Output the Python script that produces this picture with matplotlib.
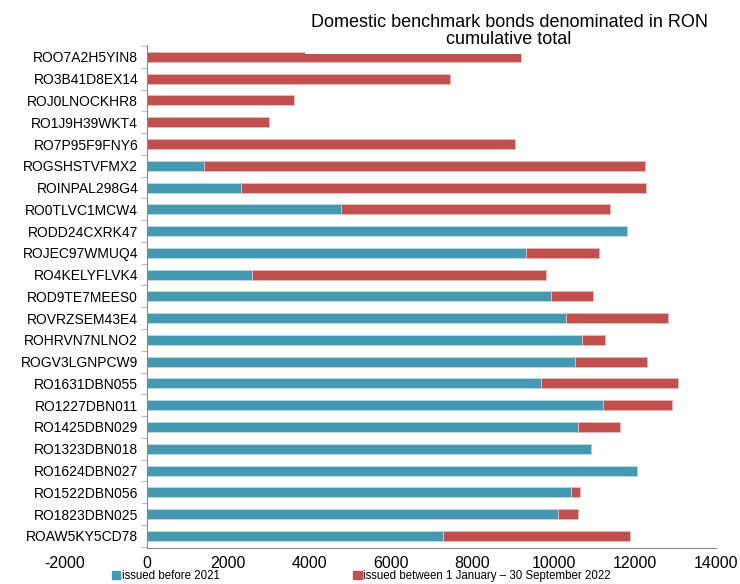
import matplotlib.pyplot as plt
from matplotlib.patches import Patch
from matplotlib.ticker import FixedLocator

plt.rcParams['font.family'] = ['Liberation Sans', 'DejaVu Sans']
plt.rcParams['axes.unicode_minus'] = False

# ── Данные (сверху вниз, как на картинке) ─────────────────────────────────────
bonds = [
    'ROO7A2H5YIN8', 'RO3B41D8EX14', 'ROJ0LNOCKHR8', 'RO1J9H39WKT4',
    'RO7P95F9FNY6', 'ROGSHSTVFMX2', 'ROINPAL298G4', 'RO0TLVC1MCW4',
    'RODD24CXRK47', 'ROJEC97WMUQ4', 'RO4KELYFLVK4', 'ROD9TE7MEES0',
    'ROVRZSEM43E4', 'ROHRVN7NLNO2', 'ROGV3LGNPCW9', 'RO1631DBN055',
    'RO1227DBN011', 'RO1425DBN029', 'RO1323DBN018', 'RO1624DBN027',
    'RO1522DBN056', 'RO1823DBN025', 'ROAW5KY5CD78',
]
before_2021 = [
    0, 0, 0, 0,
    0, 1410, 2310, 4790,
    11800, 9330, 2600, 9940,
    10310, 10690, 10540, 9690,
    11210, 10600, 10910, 12050,
    10430, 10100, 7290,
]
issued_2022 = [
    9190, 7460, 3620, 3000,
    9060, 10830, 9950, 6610,
    0, 1780, 7220, 1040,
    2500, 570, 1750, 3360,
    1710, 1040, 0, 0,
    210, 490, 4590,
]

TEAL = '#4499B0'
RED = '#C0504D'

fig = plt.figure(figsize=(7.40, 5.84), dpi=100)
ax = fig.add_axes([0.088, 0.062, 0.880, 0.861])

n = len(bonds)
ypos = [n - 1 - i for i in range(n)]
h = 0.46

ax.barh(ypos, before_2021, height=h, color=TEAL, edgecolor='#b9d8e0', lw=0.7)
ax.barh(ypos, issued_2022, left=before_2021, height=h, color=RED,
        edgecolor='#e8b8b6', lw=0.7)

ax.set_xlim(-2000, 14000)
ax.set_ylim(-0.55, n - 0.45)
ax.set_xticks(range(-2000, 14001, 2000))
ax.tick_params(axis='x', length=0, labelsize=11.5, pad=6)

ax.set_yticks(ypos)
ax.set_yticklabels(bonds, fontsize=12.5)
ax.tick_params(axis='y', which='major', length=0, pad=6)
ax.yaxis.set_minor_locator(FixedLocator([y + 0.5 for y in range(-1, n)]))
ax.tick_params(axis='y', which='minor', length=4, color='#bbbbbb', width=0.8)

for s in ['top', 'right']:
    ax.spines[s].set_visible(False)
ax.spines['left'].set_position(('data', 0))
ax.spines['left'].set_color('#888888')
ax.spines['bottom'].set_bounds(0, 14000)
ax.spines['bottom'].set_color('#888888')

fig.text(0.688, 0.947, 'Domestic benchmark bonds denominated in RON\ncumulative total',
         ha='center', va='center', fontsize=13, linespacing=1.0,
         bbox=dict(facecolor='white', edgecolor='none', pad=4))

handles = [Patch(color=TEAL, label='issued before 2021'),
           Patch(color=RED, label='issued between 1 January – 30 September 2022')]
fig.legend(handles=handles, loc='lower left', bbox_to_anchor=(0.151, 0.003),
           ncol=2, frameon=False, fontsize=8.3, handlelength=0.75,
           handleheight=0.75, handletextpad=0.1, columnspacing=11.6,
           borderpad=0, borderaxespad=0)

fig.savefig('out.png', dpi=100)
